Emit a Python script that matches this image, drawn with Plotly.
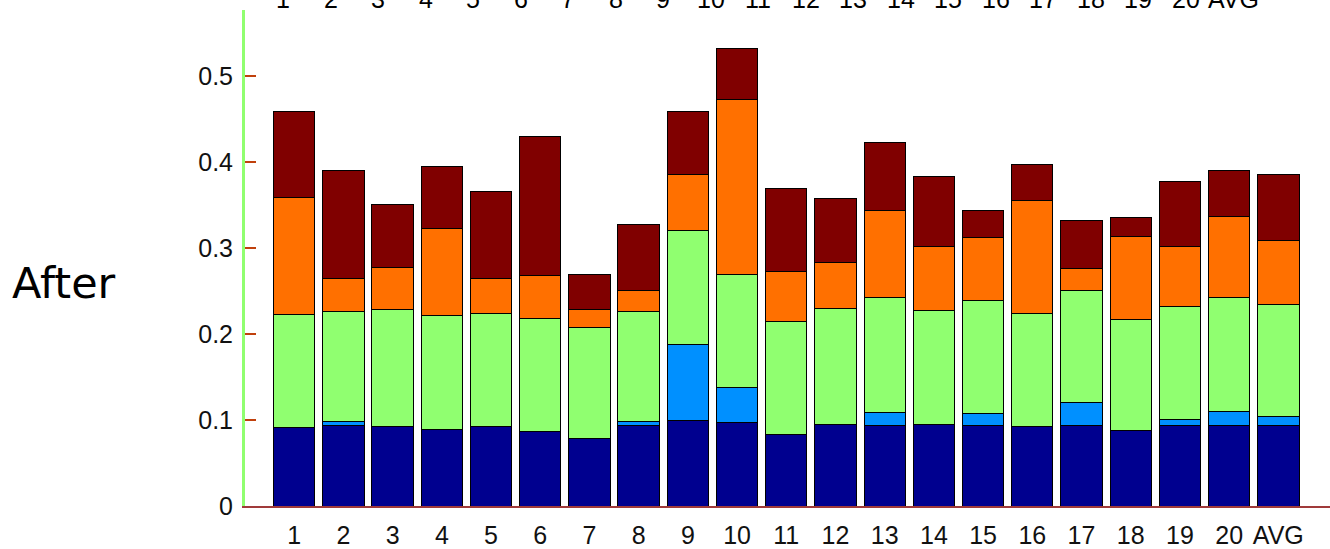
import plotly.graph_objects as go

# Categories (runs 1-20 plus the average)
categories = [str(i) for i in range(1, 21)] + ["AVG"]

# Stacked segment heights per category, bottom to top
seg_navy = [0.091, 0.094, 0.092, 0.089, 0.092, 0.087, 0.078, 0.093, 0.099, 0.097,
            0.083, 0.095, 0.094, 0.095, 0.094, 0.092, 0.094, 0.088, 0.094, 0.094, 0.093]
seg_blue = [0.000, 0.004, 0.000, 0.000, 0.000, 0.000, 0.000, 0.005, 0.089, 0.041,
            0.000, 0.000, 0.015, 0.000, 0.013, 0.000, 0.026, 0.000, 0.007, 0.016, 0.011]
seg_green = [0.132, 0.128, 0.136, 0.132, 0.132, 0.131, 0.130, 0.128, 0.132, 0.131,
             0.132, 0.134, 0.133, 0.132, 0.132, 0.132, 0.131, 0.129, 0.131, 0.132, 0.130]
seg_orange = [0.135, 0.039, 0.049, 0.102, 0.041, 0.050, 0.020, 0.025, 0.065, 0.204,
              0.057, 0.054, 0.101, 0.075, 0.073, 0.131, 0.025, 0.096, 0.070, 0.094, 0.075]
seg_maroon = [0.100, 0.125, 0.073, 0.072, 0.101, 0.161, 0.041, 0.076, 0.074, 0.059,
              0.097, 0.074, 0.079, 0.081, 0.031, 0.042, 0.056, 0.022, 0.075, 0.054, 0.076]

# Labels of the panel above, only partly visible at the top edge
upper_labels = [str(i) for i in range(1, 21)] + ["AVG"]

series = [
    (seg_navy, "#00008F"),
    (seg_blue, "#0090FF"),
    (seg_green, "#90FF70"),
    (seg_orange, "#FF7000"),
    (seg_maroon, "#800000"),
]

positions = list(range(1, len(categories) + 1))

fig = go.Figure()
for values, color in series:
    fig.add_trace(go.Bar(
        x=positions, y=values, width=0.84,
        marker=dict(color=color, line=dict(color="#000000", width=1)),
        showlegend=False,
    ))

W, H = 1330, 549
ML, MR, MT, MB = 245, 0, 10, 38
plot_w = W - ML - MR

fig.update_layout(
    width=W, height=H,
    barmode="stack",
    margin=dict(l=ML, r=MR, t=MT, b=MB),
    paper_bgcolor="white", plot_bgcolor="white",
    font=dict(family="Liberation Sans, Arial, sans-serif", size=25, color="#111111"),
    xaxis=dict(
        range=[0, 22.05],
        tickmode="array", tickvals=positions, ticktext=categories,
        ticks="", showgrid=False, zeroline=False,
        showline=True, linecolor="#a03a3a", linewidth=2,
        ticklabelstandoff=6,
    ),
    yaxis=dict(
        range=[0, 0.5765],
        tickmode="array", tickvals=[0, 0.1, 0.2, 0.3, 0.4, 0.5],
        ticktext=["0", "0.1", "0.2", "0.3", "0.4", "0.5"],
        ticks="inside", ticklen=11, tickwidth=2, tickcolor="#c0400c",
        showgrid=False, zeroline=False,
        showline=True, linecolor="#90FF70", linewidth=3,
        ticklabelstandoff=4,
    ),
)

# Row label on the left
fig.add_annotation(
    text="After", xref="paper", yref="paper",
    x=(64 - ML) / plot_w, y=(H - MB - 286) / (H - MT - MB),
    xanchor="center", yanchor="middle", showarrow=False,
    font=dict(family="DejaVu Sans, Verdana, sans-serif", size=43, color="#000000"),
)

# Tick labels of the panel above, cut off by the top edge
step = 47.5
for i, lab in enumerate(upper_labels):
    fig.add_annotation(
        text=lab, xref="paper", yref="paper",
        x=(283 + i * step - ML) / plot_w, y=(H - MB + 1) / (H - MT - MB),
        xanchor="center", yanchor="middle", showarrow=False,
        font=dict(family="Liberation Sans, Arial, sans-serif", size=25, color="#000000"),
    )

fig.write_html("out.html")
